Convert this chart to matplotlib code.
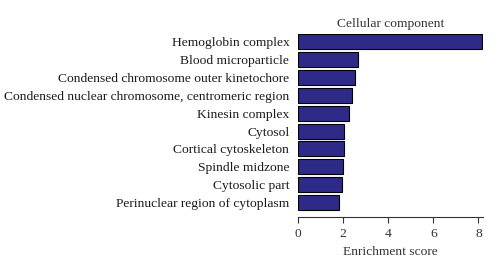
import matplotlib
matplotlib.use("Agg")
import matplotlib.pyplot as plt

# GO terms (cellular component) and their enrichment scores, top to bottom
terms = [
    "Hemoglobin complex",
    "Blood microparticle",
    "Condensed chromosome outer kinetochore",
    "Condensed nuclear chromosome, centromeric region",
    "Kinesin complex",
    "Cytosol",
    "Cortical cytoskeleton",
    "Spindle midzone",
    "Cytosolic part",
    "Perinuclear region of cytoplasm",
]
scores = [8.15, 2.67, 2.54, 2.41, 2.25, 2.06, 2.03, 1.99, 1.96, 1.84]
xticks = [0, 2, 4, 6, 8]

plt.rcParams['font.family'] = ['Liberation Serif', 'DejaVu Serif']

fig = plt.figure(figsize=(5, 2.73), dpi=100)
ax = fig.add_axes([0.5954, 0.2051, 0.3706, 0.6693])

pos = list(range(len(terms)))
ax.barh(pos, scores, height=0.84, color='#2e2b88', edgecolor='black', linewidth=0.8)
ax.set_yticks(pos)
ax.set_yticklabels(terms, fontsize=9.7, color='#1a1a1a')
ax.set_ylim(9.81, -0.42)
ax.set_xlim(0, 8.2)
ax.set_xticks(xticks)
ax.tick_params(axis='x', direction='out', length=4, width=0.8, labelsize=9.7,
               colors='#333333', pad=4)
ax.tick_params(axis='y', length=0, pad=6)

for s in ['top', 'right', 'left']:
    ax.spines[s].set_visible(False)
ax.spines['bottom'].set_color('#333333')
ax.spines['bottom'].set_linewidth(0.8)

ax.set_xlabel('Enrichment score', fontsize=9.7, color='#333333', labelpad=4)
ax.set_title('Cellular component', fontsize=9.7, color='#333333', pad=5)

fig.savefig('out.png', dpi=100)
